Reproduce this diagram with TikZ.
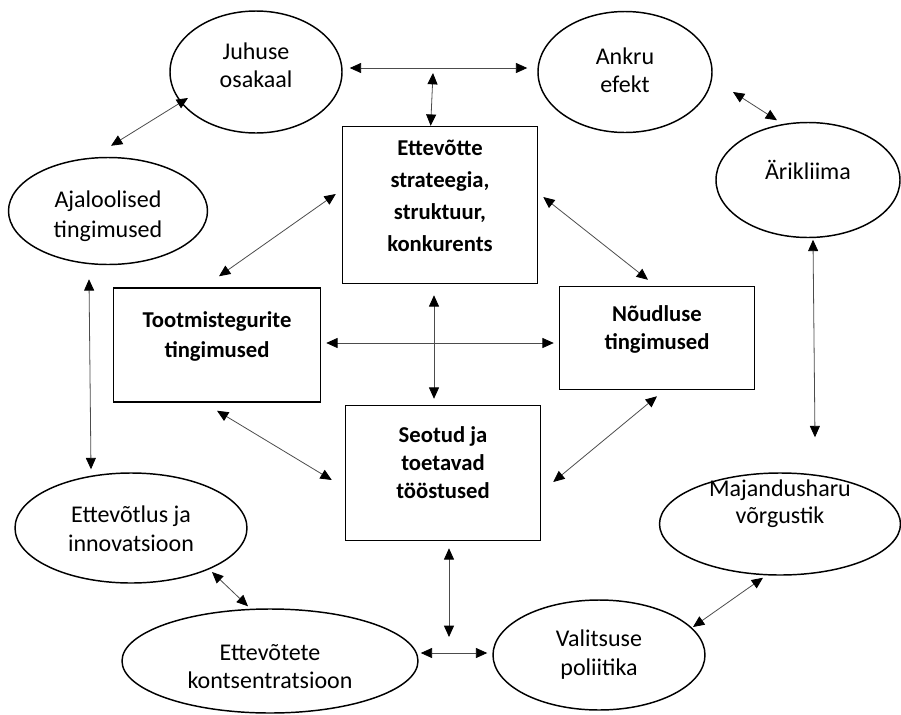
\documentclass[tikz,border=0pt]{standalone}
\usepackage{fontspec}
\setmainfont{Carlito}
\usetikzlibrary{shapes.geometric,arrows.meta}

% text of a node: [size], raise, line spacing, lines
\newcommand{\lbl}[4][18]{\raisebox{#2}[0pt][0pt]{\fontsize{#1}{#3}\selectfont\begin{tabular}{@{}c@{}}#4\end{tabular}}}

\tikzset{
  oval/.style={ellipse, draw, line width=1.1pt, inner sep=0pt},
  box/.style={rectangle, draw, line width=1.1pt, inner sep=0pt, font=\bfseries},
  link/.style={{Triangle[length=8.5pt,width=7.5pt,color=black]}-{Triangle[length=8.5pt,width=7.5pt,color=black]}, draw=black!70, line width=0.6pt}
}

\begin{document}
\begin{tikzpicture}[x=0.75pt,y=-0.75pt]
  \useasboundingbox (0,0) rectangle (901,715);

  % ovals
  \node[oval,minimum width=129pt,minimum height=91.5pt] (juhuse) at (256,72) {\lbl{-1.5pt}{21pt}{Juhuse\\osakaal}};
  \node[oval,minimum width=130.5pt,minimum height=90.75pt] (ankru) at (625,72) {\lbl{-5pt}{21pt}{Ankru\\efekt}};
  \node[oval,minimum width=149.25pt,minimum height=80.25pt] (ajalugu) at (108,211) {\lbl{-8.5pt}{22.5pt}{Ajaloolised\\tingimused}};
  \node[oval,minimum width=138pt,minimum height=86.25pt] (arikliima) at (808,180) {\lbl{0.5pt}{21pt}{Ärikliima}};
  \node[oval,minimum width=174pt,minimum height=82.5pt] (ettevotlus) at (131,528) {\lbl{-6.5pt}{21.75pt}{Ettevõtlus ja\\innovatsioon}};
  \node[oval,minimum width=222pt,minimum height=78pt] (kontsentr) at (270,661) {\lbl{-10pt}{21pt}{Ettevõtete\\kontsentratsioon}};
  \node[oval,minimum width=159pt,minimum height=82.5pt] (valitsus) at (599,655) {\lbl{-4.5pt}{21.75pt}{Valitsuse\\poliitika}};
  \node[oval,minimum width=180.75pt,minimum height=76.5pt] (vorgustik) at (780,524) {\lbl{10.5pt}{20.25pt}{Majandusharu\\võrgustik}};

  % boxes
  \node[box,minimum width=146.25pt,minimum height=117.75pt] (strat) at (440,205) {\lbl[17]{1.5pt}{24pt}{Ettevõtte\\strateegia,\\struktuur,\\konkurents}};
  \node[box,minimum width=155.25pt,minimum height=85.5pt] (tootm) at (217,345) {\lbl[17]{2pt}{22.5pt}{Tootmistegurite\\tingimused}};
  \node[box,minimum width=146.25pt,minimum height=77.25pt] (noudlus) at (657,338) {\lbl[17]{2pt}{21pt}{Nõudluse\\tingimused}};
  \node[box,minimum width=146.25pt,minimum height=101.25pt] (seotud) at (443,473) {\lbl[17]{1.5pt}{21pt}{Seotud ja\\toetavad\\tööstused}};

  \coordinate (topend) at (433,73);
  \coordinate (botend) at (449,637);

  % links
  \draw[link] ([shift={(7,-4)}]juhuse.east) -- ([shift={(-10,-4)}]ankru.west);
  \draw[link] (topend) -- ([xshift=-7]strat.north);
  \draw[link] ([shift={(-68,26)}]juhuse.center) -- ([shift={(3,-11)}]ajalugu.north);
  \draw[link] ([shift={(-19,14)}]ajalugu.south) -- ([shift={(-40,-3)}]ettevotlus.north);
  \draw[link] ([shift={(81,44)}]ettevotlus.center) -- ([shift={(-22,-2)}]kontsentr.north);
  \draw[link] ([shift={(2,-8)}]kontsentr.east) -- ([shift={(-5,-2)}]valitsus.west);
  \draw[link] ([shift={(6,7)}]seotud.south) -- (botend);
  \draw[link] ([shift={(94,-28)}]valitsus.center) -- ([shift={(-17,2)}]vorgustik.south);
  \draw[link] ([shift={(35,-35)}]vorgustik.north) -- ([shift={(5,1.5)}]arikliima.south);
  \draw[link] ([shift={(-31,-1.5)}]arikliima.north) -- ([shift={(108,20)}]ankru.center);
  \draw[link] ([shift={(-6,-11)}]strat.west) -- ([shift={(2,-11)}]tootm.north);
  \draw[link] ([shift={(5,-8)}]strat.east) -- ([shift={(-9,-6)}]noudlus.north);
  \draw[link] ([shift={(5,-2)}]tootm.east) -- ([shift={(-5,5)}]noudlus.west);
  \draw[link] ([shift={(-6,11)}]strat.south) -- ([shift={(-9,-6)}]seotud.north);
  \draw[link] ([shift={(0,8)}]tootm.south) -- ([shift={(-13,7)}]seotud.west);
  \draw[link] ([shift={(0,6)}]noudlus.south) -- ([shift={(12,9)}]seotud.east);
\end{tikzpicture}
\end{document}
